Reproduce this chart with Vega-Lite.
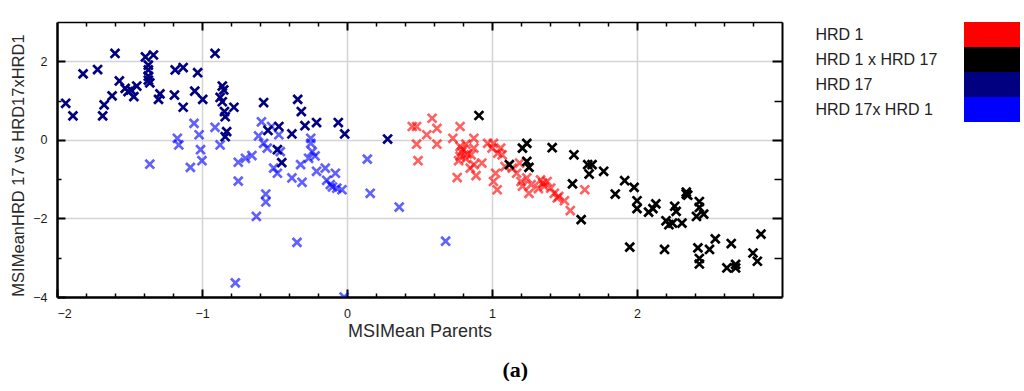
{
  "$schema": "https://vega.github.io/schema/vega-lite/v6.json",
  "padding": {"left": 10, "top": 9, "right": 0, "bottom": 0},
  "config": {
    "view": {"stroke": null},
    "font": "Liberation Sans",
    "axis": {"labelFont": "Liberation Sans", "labelFontSize": 12.5, "labelColor": "#1a1a1a", "titleFont": "Liberation Sans", "titleFontWeight": "normal", "titleColor": "#2a2a2a", "tickColor": "#000", "domainColor": "#000", "gridColor": "#d4d4d4", "gridWidth": 1.5}
  },
  "resolve": {"scale": {"color": "independent"}},
  "title": {"text": "(a)", "orient": "bottom", "anchor": "middle", "font": "Liberation Serif", "fontSize": 22, "fontWeight": "bold", "color": "#000", "offset": 19},
  "spacing": 32,
  "hconcat": [
    {
      "width": 725,
      "height": 275,
      "data": {"values": [
        {"x":-1.055,"y":0.42,"g":"HRD 17x HRD 1"},{"x":-0.91,"y":0.32,"g":"HRD 17x HRD 1"},{"x":-1.17,"y":0.04,"g":"HRD 17x HRD 1"},{"x":-1.16,"y":-0.13,"g":"HRD 17x HRD 1"},{"x":-1.02,"y":0.13,"g":"HRD 17x HRD 1"},{"x":-1.01,"y":-0.25,"g":"HRD 17x HRD 1"},{"x":-0.875,"y":-0.13,"g":"HRD 17x HRD 1"},{"x":-1.0,"y":-0.53,"g":"HRD 17x HRD 1"},{"x":-1.08,"y":-0.7,"g":"HRD 17x HRD 1"},{"x":-1.36,"y":-0.62,"g":"HRD 17x HRD 1"},{"x":-0.75,"y":-0.57,"g":"HRD 17x HRD 1"},{"x":-0.7,"y":-0.47,"g":"HRD 17x HRD 1"},{"x":-0.656,"y":-0.4,"g":"HRD 17x HRD 1"},{"x":-0.75,"y":-1.05,"g":"HRD 17x HRD 1"},{"x":-0.59,"y":0.46,"g":"HRD 17x HRD 1"},{"x":-0.61,"y":0.1,"g":"HRD 17x HRD 1"},{"x":-0.52,"y":0.34,"g":"HRD 17x HRD 1"},{"x":-0.47,"y":0.13,"g":"HRD 17x HRD 1"},{"x":-0.575,"y":-0.09,"g":"HRD 17x HRD 1"},{"x":-0.55,"y":-0.21,"g":"HRD 17x HRD 1"},{"x":-0.46,"y":-0.3,"g":"HRD 17x HRD 1"},{"x":-0.506,"y":-0.72,"g":"HRD 17x HRD 1"},{"x":-0.48,"y":-0.85,"g":"HRD 17x HRD 1"},{"x":-0.32,"y":-0.63,"g":"HRD 17x HRD 1"},{"x":-0.265,"y":-0.47,"g":"HRD 17x HRD 1"},{"x":-0.24,"y":-0.3,"g":"HRD 17x HRD 1"},{"x":-0.25,"y":-0.09,"g":"HRD 17x HRD 1"},{"x":-0.25,"y":0.04,"g":"HRD 17x HRD 1"},{"x":-0.22,"y":-0.41,"g":"HRD 17x HRD 1"},{"x":-0.15,"y":-0.72,"g":"HRD 17x HRD 1"},{"x":-0.21,"y":-0.8,"g":"HRD 17x HRD 1"},{"x":-0.08,"y":-0.85,"g":"HRD 17x HRD 1"},{"x":0.14,"y":-0.49,"g":"HRD 17x HRD 1"},{"x":-0.56,"y":-1.38,"g":"HRD 17x HRD 1"},{"x":-0.56,"y":-1.58,"g":"HRD 17x HRD 1"},{"x":-0.625,"y":-1.95,"g":"HRD 17x HRD 1"},{"x":-0.345,"y":-2.61,"g":"HRD 17x HRD 1"},{"x":-0.77,"y":-3.64,"g":"HRD 17x HRD 1"},{"x":-0.02,"y":-4.0,"g":"HRD 17x HRD 1"},{"x":-0.38,"y":-0.97,"g":"HRD 17x HRD 1"},{"x":-0.31,"y":-1.08,"g":"HRD 17x HRD 1"},{"x":-0.14,"y":-1.03,"g":"HRD 17x HRD 1"},{"x":-0.115,"y":-1.14,"g":"HRD 17x HRD 1"},{"x":-0.1,"y":-1.2,"g":"HRD 17x HRD 1"},{"x":-0.07,"y":-1.23,"g":"HRD 17x HRD 1"},{"x":-0.035,"y":-1.27,"g":"HRD 17x HRD 1"},{"x":0.16,"y":-1.36,"g":"HRD 17x HRD 1"},{"x":0.36,"y":-1.71,"g":"HRD 17x HRD 1"},{"x":0.68,"y":-2.58,"g":"HRD 17x HRD 1"},
        {"x":0.587,"y":0.55,"g":"HRD 1"},{"x":0.45,"y":0.34,"g":"HRD 1"},{"x":0.48,"y":0.34,"g":"HRD 1"},{"x":0.55,"y":0.13,"g":"HRD 1"},{"x":0.62,"y":0.29,"g":"HRD 1"},{"x":0.48,"y":-0.11,"g":"HRD 1"},{"x":0.62,"y":-0.11,"g":"HRD 1"},{"x":0.49,"y":-0.53,"g":"HRD 1"},{"x":0.78,"y":0.34,"g":"HRD 1"},{"x":0.73,"y":0.04,"g":"HRD 1"},{"x":0.875,"y":0.04,"g":"HRD 1"},{"x":0.78,"y":-0.17,"g":"HRD 1"},{"x":0.82,"y":-0.11,"g":"HRD 1"},{"x":0.875,"y":-0.21,"g":"HRD 1"},{"x":0.79,"y":-0.31,"g":"HRD 1"},{"x":0.78,"y":-0.42,"g":"HRD 1"},{"x":0.82,"y":-0.48,"g":"HRD 1"},{"x":0.77,"y":-0.53,"g":"HRD 1"},{"x":0.856,"y":-0.38,"g":"HRD 1"},{"x":0.875,"y":-0.63,"g":"HRD 1"},{"x":0.93,"y":-0.59,"g":"HRD 1"},{"x":0.85,"y":-0.72,"g":"HRD 1"},{"x":0.89,"y":-0.91,"g":"HRD 1"},{"x":0.76,"y":-0.96,"g":"HRD 1"},{"x":0.97,"y":-0.09,"g":"HRD 1"},{"x":1.01,"y":-0.09,"g":"HRD 1"},{"x":1.0,"y":-0.21,"g":"HRD 1"},{"x":1.06,"y":-0.21,"g":"HRD 1"},{"x":1.04,"y":-0.34,"g":"HRD 1"},{"x":1.07,"y":-0.38,"g":"HRD 1"},{"x":1.025,"y":-0.85,"g":"HRD 1"},{"x":1.01,"y":-1.06,"g":"HRD 1"},{"x":1.036,"y":-1.27,"g":"HRD 1"},{"x":1.09,"y":-0.68,"g":"HRD 1"},{"x":1.14,"y":-0.72,"g":"HRD 1"},{"x":1.17,"y":-0.85,"g":"HRD 1"},{"x":1.19,"y":-0.59,"g":"HRD 1"},{"x":1.2,"y":-1.06,"g":"HRD 1"},{"x":1.24,"y":-0.97,"g":"HRD 1"},{"x":1.27,"y":-1.14,"g":"HRD 1"},{"x":1.255,"y":-1.36,"g":"HRD 1"},{"x":1.335,"y":-1.02,"g":"HRD 1"},{"x":1.38,"y":-1.06,"g":"HRD 1"},{"x":1.36,"y":-1.18,"g":"HRD 1"},{"x":1.405,"y":-1.23,"g":"HRD 1"},{"x":1.32,"y":-1.24,"g":"HRD 1"},{"x":1.43,"y":-1.36,"g":"HRD 1"},{"x":1.45,"y":-1.48,"g":"HRD 1"},{"x":1.54,"y":-1.8,"g":"HRD 1"},{"x":1.64,"y":-1.27,"g":"HRD 1"},{"x":1.21,"y":-1.18,"g":"HRD 1"},{"x":1.35,"y":-1.1,"g":"HRD 1"},{"x":1.46,"y":-1.44,"g":"HRD 1"},{"x":1.5,"y":-1.55,"g":"HRD 1"},{"x":0.8,"y":-0.25,"g":"HRD 1"},{"x":0.83,"y":-0.36,"g":"HRD 1"},
        {"x":-1.94,"y":0.93,"g":"HRD 17"},{"x":-1.89,"y":0.61,"g":"HRD 17"},{"x":-1.82,"y":1.68,"g":"HRD 17"},{"x":-1.72,"y":1.79,"g":"HRD 17"},{"x":-1.685,"y":0.61,"g":"HRD 17"},{"x":-1.675,"y":0.89,"g":"HRD 17"},{"x":-1.62,"y":1.12,"g":"HRD 17"},{"x":-1.6,"y":2.2,"g":"HRD 17"},{"x":-1.57,"y":1.5,"g":"HRD 17"},{"x":-1.53,"y":1.31,"g":"HRD 17"},{"x":-1.51,"y":1.23,"g":"HRD 17"},{"x":-1.49,"y":1.27,"g":"HRD 17"},{"x":-1.47,"y":1.1,"g":"HRD 17"},{"x":-1.45,"y":1.37,"g":"HRD 17"},{"x":-1.39,"y":2.11,"g":"HRD 17"},{"x":-1.335,"y":2.16,"g":"HRD 17"},{"x":-1.37,"y":1.9,"g":"HRD 17"},{"x":-1.37,"y":1.78,"g":"HRD 17"},{"x":-1.37,"y":1.62,"g":"HRD 17"},{"x":-1.37,"y":1.52,"g":"HRD 17"},{"x":-1.36,"y":1.45,"g":"HRD 17"},{"x":-1.29,"y":1.17,"g":"HRD 17"},{"x":-1.3,"y":1.03,"g":"HRD 17"},{"x":-1.185,"y":1.78,"g":"HRD 17"},{"x":-1.13,"y":1.84,"g":"HRD 17"},{"x":-1.03,"y":1.71,"g":"HRD 17"},{"x":-1.19,"y":1.14,"g":"HRD 17"},{"x":-1.13,"y":0.83,"g":"HRD 17"},{"x":-1.05,"y":1.24,"g":"HRD 17"},{"x":-0.995,"y":1.03,"g":"HRD 17"},{"x":-0.91,"y":2.2,"g":"HRD 17"},{"x":-0.86,"y":1.37,"g":"HRD 17"},{"x":-0.85,"y":1.27,"g":"HRD 17"},{"x":-0.875,"y":1.08,"g":"HRD 17"},{"x":-0.86,"y":0.97,"g":"HRD 17"},{"x":-0.845,"y":0.72,"g":"HRD 17"},{"x":-0.84,"y":0.59,"g":"HRD 17"},{"x":-0.78,"y":0.83,"g":"HRD 17"},{"x":-0.83,"y":0.21,"g":"HRD 17"},{"x":-0.84,"y":0.08,"g":"HRD 17"},{"x":-0.575,"y":0.95,"g":"HRD 17"},{"x":-0.34,"y":1.03,"g":"HRD 17"},{"x":-0.315,"y":0.72,"g":"HRD 17"},{"x":-0.545,"y":0.24,"g":"HRD 17"},{"x":-0.47,"y":0.34,"g":"HRD 17"},{"x":-0.38,"y":0.15,"g":"HRD 17"},{"x":-0.29,"y":0.36,"g":"HRD 17"},{"x":-0.21,"y":0.44,"g":"HRD 17"},{"x":-0.06,"y":0.44,"g":"HRD 17"},{"x":-0.016,"y":0.15,"g":"HRD 17"},{"x":0.28,"y":0.02,"g":"HRD 17"},{"x":-0.48,"y":-0.25,"g":"HRD 17"},{"x":-0.45,"y":-0.58,"g":"HRD 17"},
        {"x":0.91,"y":0.62,"g":"HRD 1 x HRD 17"},{"x":1.24,"y":-0.09,"g":"HRD 1 x HRD 17"},{"x":1.21,"y":-0.21,"g":"HRD 1 x HRD 17"},{"x":1.24,"y":-0.55,"g":"HRD 1 x HRD 17"},{"x":1.255,"y":-0.7,"g":"HRD 1 x HRD 17"},{"x":1.12,"y":-0.63,"g":"HRD 1 x HRD 17"},{"x":1.415,"y":-0.2,"g":"HRD 1 x HRD 17"},{"x":1.565,"y":-0.38,"g":"HRD 1 x HRD 17"},{"x":1.66,"y":-0.63,"g":"HRD 1 x HRD 17"},{"x":1.69,"y":-0.63,"g":"HRD 1 x HRD 17"},{"x":1.67,"y":-0.87,"g":"HRD 1 x HRD 17"},{"x":1.555,"y":-1.12,"g":"HRD 1 x HRD 17"},{"x":1.615,"y":-2.03,"g":"HRD 1 x HRD 17"},{"x":1.77,"y":-0.8,"g":"HRD 1 x HRD 17"},{"x":1.915,"y":-1.04,"g":"HRD 1 x HRD 17"},{"x":1.98,"y":-1.21,"g":"HRD 1 x HRD 17"},{"x":1.85,"y":-1.38,"g":"HRD 1 x HRD 17"},{"x":2.0,"y":-1.55,"g":"HRD 1 x HRD 17"},{"x":2.0,"y":-1.75,"g":"HRD 1 x HRD 17"},{"x":2.08,"y":-1.84,"g":"HRD 1 x HRD 17"},{"x":2.13,"y":-1.63,"g":"HRD 1 x HRD 17"},{"x":2.11,"y":-1.75,"g":"HRD 1 x HRD 17"},{"x":2.34,"y":-1.33,"g":"HRD 1 x HRD 17"},{"x":2.35,"y":-1.41,"g":"HRD 1 x HRD 17"},{"x":2.26,"y":-1.69,"g":"HRD 1 x HRD 17"},{"x":2.27,"y":-1.82,"g":"HRD 1 x HRD 17"},{"x":2.43,"y":-1.57,"g":"HRD 1 x HRD 17"},{"x":2.43,"y":-1.72,"g":"HRD 1 x HRD 17"},{"x":2.46,"y":-1.89,"g":"HRD 1 x HRD 17"},{"x":2.41,"y":-1.95,"g":"HRD 1 x HRD 17"},{"x":2.2,"y":-2.06,"g":"HRD 1 x HRD 17"},{"x":2.22,"y":-2.16,"g":"HRD 1 x HRD 17"},{"x":2.31,"y":-2.12,"g":"HRD 1 x HRD 17"},{"x":2.245,"y":-2.12,"g":"HRD 1 x HRD 17"},{"x":1.95,"y":-2.73,"g":"HRD 1 x HRD 17"},{"x":2.19,"y":-2.79,"g":"HRD 1 x HRD 17"},{"x":2.42,"y":-2.75,"g":"HRD 1 x HRD 17"},{"x":2.5,"y":-2.79,"g":"HRD 1 x HRD 17"},{"x":2.54,"y":-2.52,"g":"HRD 1 x HRD 17"},{"x":2.43,"y":-3.02,"g":"HRD 1 x HRD 17"},{"x":2.43,"y":-3.16,"g":"HRD 1 x HRD 17"},{"x":2.65,"y":-2.64,"g":"HRD 1 x HRD 17"},{"x":2.62,"y":-3.26,"g":"HRD 1 x HRD 17"},{"x":2.68,"y":-3.17,"g":"HRD 1 x HRD 17"},{"x":2.68,"y":-3.26,"g":"HRD 1 x HRD 17"},{"x":2.8,"y":-2.88,"g":"HRD 1 x HRD 17"},{"x":2.83,"y":-3.09,"g":"HRD 1 x HRD 17"},{"x":2.855,"y":-2.4,"g":"HRD 1 x HRD 17"},{"x":2.34,"y":-1.38,"g":"HRD 1 x HRD 17"}
      ]},
      "resolve": {"axis": {"x": "independent", "y": "independent"}},
      "layer": [
        {
          "mark": {"type": "point", "shape": "M-1,-1L1,1M-1,1L1,-1", "filled": false, "size": 78, "strokeWidth": 2.7, "opacity": 1, "clip": true},
          "encoding": {
            "x": {"field": "x", "type": "quantitative", "scale": {"domain": [-2, 3], "nice": false, "zero": false},
                  "axis": {"orient": "bottom", "values": [-2, -1, 0, 1, 2], "title": "MSIMean Parents", "titleFontSize": 18, "titlePadding": 3, "grid": true, "tickSize": -8, "tickWidth": 2, "labelPadding": 18, "domainWidth": 2.5}},
            "y": {"field": "y", "type": "quantitative", "scale": {"domain": [-4, 3], "nice": false, "zero": false},
                  "axis": {"orient": "left", "values": [-4, -2, 0, 2], "title": "MSIMeanHRD 17 vs HRD17xHRD1", "titleFontSize": 16.5, "titlePadding": 6, "titleY": 143, "grid": true, "tickSize": -8, "tickWidth": 2, "labelPadding": 18, "domainWidth": 2.5}},
            "color": {"field": "g", "type": "nominal", "legend": null,
                      "scale": {"domain": ["HRD 1", "HRD 1 x HRD 17", "HRD 17", "HRD 17x HRD 1"], "range": ["rgba(255,0,0,0.62)", "#000000", "#000080", "rgba(0,0,255,0.62)"]}}
          }
        },
        {
          "mark": {"type": "point", "opacity": 0},
          "encoding": {
            "x": {"field": "x", "type": "quantitative", "axis": {"orient": "bottom", "values": [-1.8, -1.6, -1.4, -1.2, -0.8, -0.6, -0.4, -0.2, 0.2, 0.4, 0.6, 0.8, 1.2, 1.4, 1.6, 1.8, 2.2, 2.4, 2.6, 2.8], "labels": false, "grid": false, "domain": false, "tickSize": -4, "tickWidth": 1.5, "title": null}},
            "y": {"field": "y", "type": "quantitative", "axis": {"orient": "left", "values": [-3, -1, 1], "labels": false, "grid": false, "domain": false, "tickSize": -4, "tickWidth": 1.5, "title": null}}
          }
        },
        {
          "mark": {"type": "point", "opacity": 0},
          "encoding": {
            "x": {"field": "x", "type": "quantitative", "axis": {"orient": "top", "values": [-1, 0, 1, 2], "labels": false, "grid": false, "domain": true, "domainWidth": 1.5, "tickSize": -8, "tickWidth": 2, "title": null, "minExtent": 13, "maxExtent": 13}},
            "y": {"field": "y", "type": "quantitative", "axis": {"orient": "right", "values": [-2, 0, 2], "labels": false, "grid": false, "domain": true, "domainWidth": 2, "tickSize": -10, "tickWidth": 2, "title": null}}
          }
        },
        {
          "mark": {"type": "point", "opacity": 0},
          "encoding": {
            "x": {"field": "x", "type": "quantitative", "axis": {"orient": "top", "values": [-1.8, -1.6, -1.4, -1.2, -0.8, -0.6, -0.4, -0.2, 0.2, 0.4, 0.6, 0.8, 1.2, 1.4, 1.6, 1.8, 2.2, 2.4, 2.6, 2.8], "labels": false, "grid": false, "domain": false, "tickSize": -4, "tickWidth": 1.5, "title": null}},
            "y": {"field": "y", "type": "quantitative", "axis": {"orient": "right", "values": [-3, -1, 1], "labels": false, "grid": false, "domain": false, "tickSize": -8, "tickWidth": 1.5, "title": null}}
          }
        }
      ]
    },
    {
      "width": 56,
      "height": 100,
      "data": {"values": [{"g": "HRD 1"}, {"g": "HRD 1 x HRD 17"}, {"g": "HRD 17"}, {"g": "HRD 17x HRD 1"}]},
      "mark": {"type": "rect"},
      "encoding": {
        "y": {"field": "g", "type": "nominal", "sort": ["HRD 1", "HRD 1 x HRD 17", "HRD 17", "HRD 17x HRD 1"],
              "axis": {"title": null, "ticks": false, "domain": false, "labelAlign": "left", "labelPadding": 149, "labelFontSize": 16, "labelColor": "#222", "labelLimit": 200}},
        "color": {"field": "g", "type": "nominal", "legend": null,
                  "scale": {"domain": ["HRD 1", "HRD 1 x HRD 17", "HRD 17", "HRD 17x HRD 1"], "range": ["#ff0000", "#000000", "#000080", "#0000ff"]}}
      }
    }
  ]
}
